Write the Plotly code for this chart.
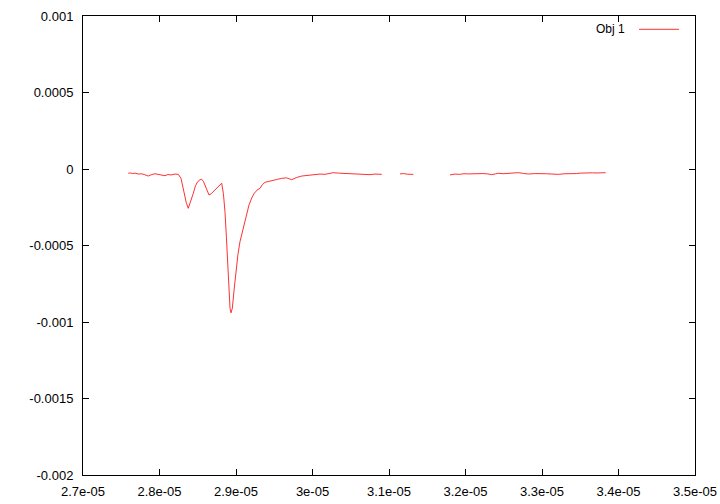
import plotly.graph_objects as go

# time values (seconds) and signal values; None marks gaps in the trace
time_s = [
    # segment 1
    2.7592e-05, 2.7620e-05, 2.7650e-05, 2.7680e-05, 2.7723e-05, 2.7760e-05, 2.7800e-05,
    2.7830e-05, 2.7854e-05, 2.7890e-05, 2.7920e-05, 2.7941e-05, 2.7980e-05, 2.8020e-05,
    2.8072e-05, 2.8110e-05, 2.8150e-05, 2.8200e-05, 2.8246e-05, 2.8281e-05, 2.8300e-05,
    2.8324e-05, 2.8350e-05, 2.8376e-05, 2.8400e-05, 2.8442e-05, 2.8470e-05, 2.8499e-05,
    2.8530e-05, 2.8552e-05, 2.8575e-05, 2.8595e-05, 2.8620e-05, 2.8647e-05, 2.8675e-05,
    2.8703e-05, 2.8740e-05, 2.8769e-05, 2.8795e-05, 2.8813e-05, 2.8835e-05, 2.8856e-05,
    2.8875e-05, 2.8892e-05, 2.8910e-05, 2.8922e-05, 2.8935e-05, 2.8952e-05, 2.8975e-05,
    2.8996e-05, 2.9025e-05, 2.9052e-05, 2.9085e-05, 2.9118e-05, 2.9145e-05, 2.9170e-05,
    2.9205e-05, 2.9239e-05, 2.9275e-05, 2.9314e-05, 2.9345e-05, 2.9379e-05, 2.9420e-05,
    2.9467e-05, 2.9530e-05, 2.9597e-05, 2.9660e-05, 2.9728e-05, 2.9790e-05, 2.9859e-05,
    2.9940e-05, 3.0033e-05, 3.0098e-05, 3.0163e-05, 3.0220e-05, 3.0272e-05, 3.0340e-05,
    3.0403e-05, 3.0470e-05, 3.0533e-05, 3.0580e-05, 3.0621e-05, 3.0690e-05, 3.0752e-05,
    3.0817e-05, 3.0865e-05, 3.0905e-05,
    None,
    # segment 2
    3.1144e-05, 3.1190e-05, 3.1240e-05, 3.1280e-05, 3.1318e-05,
    None,
    # segment 3
    3.1797e-05, 3.1830e-05, 3.1863e-05, 3.1920e-05, 3.1980e-05, 3.2040e-05, 3.2100e-05,
    3.2167e-05, 3.2230e-05, 3.2290e-05, 3.2342e-05, 3.2390e-05, 3.2429e-05, 3.2490e-05,
    3.2560e-05, 3.2630e-05, 3.2690e-05, 3.2760e-05, 3.2821e-05, 3.2900e-05, 3.2996e-05,
    3.3060e-05, 3.3130e-05, 3.3213e-05, 3.3300e-05, 3.3388e-05, 3.3450e-05, 3.3500e-05,
    3.3560e-05, 3.3605e-05, 3.3660e-05, 3.3720e-05, 3.3780e-05, 3.3832e-05,
]

signal = [
    # segment 1
    -2.8e-05, -2.6e-05, -3.0e-05, -2.7e-05, -3.3e-05, -3.1e-05, -3.6e-05,
    -4.0e-05, -4.6e-05, -3.8e-05, -3.4e-05, -3.1e-05, -3.5e-05, -3.9e-05,
    -4.4e-05, -3.6e-05, -3.9e-05, -3.3e-05, -3.5e-05, -6.1e-05, -1.05e-04,
    -1.70e-04, -2.20e-04, -2.57e-04, -2.25e-04, -1.59e-04, -1.10e-04, -8.3e-05,
    -7.0e-05, -6.7e-05, -8.2e-05, -1.05e-04, -1.45e-04, -1.70e-04, -1.62e-04,
    -1.48e-04, -1.25e-04, -1.09e-04, -9.8e-05, -9.3e-05, -1.60e-04, -2.79e-04,
    -4.50e-04, -6.27e-04, -7.90e-04, -9.10e-04, -9.40e-04, -9.10e-04, -7.90e-04,
    -6.71e-04, -5.60e-04, -4.75e-04, -4.05e-04, -3.44e-04, -2.85e-04, -2.35e-04,
    -1.90e-04, -1.59e-04, -1.38e-04, -1.26e-04, -1.02e-04, -8.7e-05, -8.2e-05,
    -7.8e-05, -6.9e-05, -6.1e-05, -5.8e-05, -7.0e-05, -5.6e-05, -4.6e-05,
    -4.1e-05, -3.5e-05, -3.3e-05, -3.5e-05, -3.0e-05, -2.4e-05, -2.7e-05,
    -2.8e-05, -3.1e-05, -3.3e-05, -3.0e-05, -3.5e-05, -3.3e-05, -3.7e-05,
    -3.3e-05, -3.6e-05, -3.5e-05,
    None,
    # segment 2
    -3.2e-05, -3.0e-05, -3.4e-05, -3.3e-05, -3.5e-05,
    None,
    # segment 3
    -3.9e-05, -3.6e-05, -3.3e-05, -3.5e-05, -3.1e-05, -3.2e-05, -3.0e-05,
    -2.8e-05, -3.0e-05, -3.2e-05, -3.7e-05, -3.2e-05, -2.8e-05, -3.1e-05,
    -2.8e-05, -2.6e-05, -2.4e-05, -2.9e-05, -3.3e-05, -3.0e-05, -2.8e-05,
    -3.1e-05, -3.3e-05, -3.5e-05, -3.1e-05, -3.3e-05, -3.0e-05, -2.7e-05,
    -2.5e-05, -2.2e-05, -2.5e-05, -2.6e-05, -2.3e-05, -2.4e-05,
]

x_tick_vals = [2.7e-05, 2.8e-05, 2.9e-05, 3.0e-05, 3.1e-05, 3.2e-05, 3.3e-05, 3.4e-05, 3.5e-05]
x_tick_text = ["2.7e-05", "2.8e-05", "2.9e-05", "3e-05", "3.1e-05", "3.2e-05", "3.3e-05", "3.4e-05", "3.5e-05"]
y_tick_vals = [0.001, 0.0005, 0.0, -0.0005, -0.001, -0.0015, -0.002]
y_tick_text = ["0.001", "0.0005", "0", "-0.0005", "-0.001", "-0.0015", "-0.002"]
series_name = "Obj 1"

font_family = "Liberation Sans, Arial, Helvetica, sans-serif"

fig = go.Figure()
fig.add_trace(go.Scatter(
    x=time_s, y=signal, mode="lines", name=series_name,
    line=dict(color="#ff1a1a", width=0.9), connectgaps=False, showlegend=False,
))

axis_common = dict(
    showline=True, linecolor="black", linewidth=1, mirror="ticks",
    ticks="inside", ticklen=6, tickcolor="black", tickwidth=1,
    showgrid=False, zeroline=False, automargin=False,
    tickfont=dict(family=font_family, size=13, color="black"),
)

fig.update_layout(
    width=720, height=504,
    margin=dict(l=83, r=25, t=16, b=29),
    paper_bgcolor="white", plot_bgcolor="white",
    xaxis=dict(range=[2.7e-05, 3.5e-05], tickmode="array",
               tickvals=x_tick_vals, ticktext=x_tick_text,
               ticklabelstandoff=4, **axis_common),
    yaxis=dict(range=[-0.002, 0.001], tickmode="array",
               tickvals=y_tick_vals, ticktext=y_tick_text,
               ticklabelstandoff=6, **axis_common),
    showlegend=False,
)

# gnuplot-style key: label text followed by line sample
fig.add_annotation(
    x=0.889, y=0.971, xref="paper", yref="paper",
    text=series_name, showarrow=False, xanchor="right", yanchor="middle",
    font=dict(family=font_family, size=12, color="black"),
)
fig.add_shape(
    type="line", xref="paper", yref="paper",
    x0=0.9085, x1=0.974, y0=0.971, y1=0.971,
    line=dict(color="#ff1a1a", width=0.9),
)

fig.write_html(
    "out.html",
    config={"displayModeBar": False},
    post_script="document.body.style.margin='0';document.body.style.padding='0';",
)
